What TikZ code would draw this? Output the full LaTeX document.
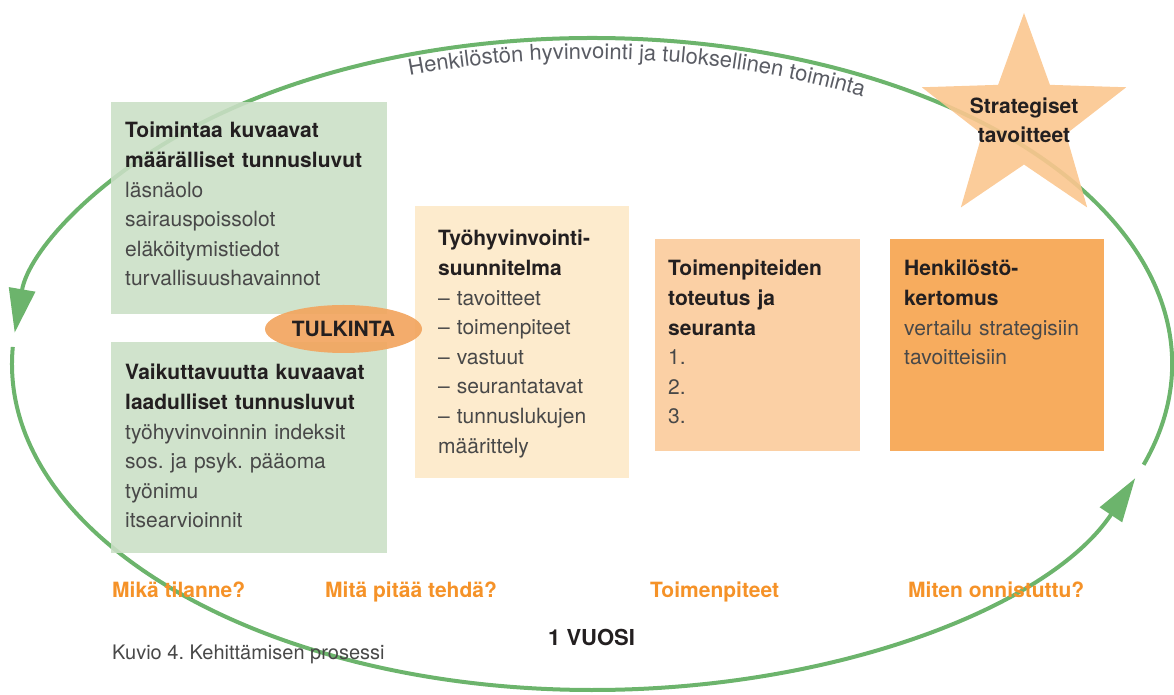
\documentclass[tikz,border=0pt]{standalone}
\usepackage{fontspec}
\setmainfont{TeX Gyre Heros}
\usetikzlibrary{arrows.meta,shapes.geometric,decorations.text}
\frenchspacing
\definecolor{loopgreen}{RGB}{108,180,108}
\definecolor{measgreen}{RGB}{202,223,197}
\definecolor{planyellow}{RGB}{253,232,198}
\definecolor{actpeach}{RGB}{251,202,152}
\definecolor{reportorange}{RGB}{246,160,72}
\definecolor{starorange}{RGB}{251,198,143}
\definecolor{tulkorange}{RGB}{242,165,95}
\definecolor{askorange}{RGB}{245,146,40}
\definecolor{titleink}{RGB}{35,31,32}
\definecolor{bodyink}{RGB}{72,72,72}
\definecolor{arcgrey}{RGB}{90,92,100}
\newcommand{\txtsize}{\fontsize{21}{29.6}\selectfont}
\newcommand{\paneltitle}[1]{\textbf{\color{titleink}#1}}
\tikzset{
  panel/.style={rectangle, anchor=north west, inner sep=0pt, draw=none, fill opacity=0.88},
  greenpanel/.style={panel, fill=measgreen},
  planpanel/.style={panel, fill=planyellow},
  actpanel/.style={panel, fill=actpeach},
  reportpanel/.style={panel, fill=reportorange},
  paneltext/.style={anchor=base west, inner sep=0pt, align=left, font=\txtsize, text=bodyink},
  question/.style={anchor=base west, inner sep=0pt, font=\txtsize\bfseries, text=askorange},
  loop/.style={draw=loopgreen, line width=4pt, -{Triangle[length=44pt, width=26pt]}},
  goalstar/.style={star, star points=5, star point ratio=2.44, minimum size=215pt, inner sep=0pt, draw=none, fill=starorange, fill opacity=0.9},
  tulkinta/.style={ellipse, minimum width=157pt, minimum height=48pt, inner sep=0pt, fill=tulkorange, fill opacity=0.92, text opacity=1, font=\txtsize\bfseries, text=titleink}
}

\begin{document}
\begin{tikzpicture}[x=1pt, y=1pt]
  \useasboundingbox (0,0) rectangle (1174,695);
  \coordinate (centre) at (592,331);

  % the yearly loop
  \draw[loop] ([shift={(-18:580 and 326)}]centre) arc[start angle=-18, end angle=174.5, x radius=580, y radius=326];
  \draw[loop] ([shift={(177:580 and 326)}]centre) arc[start angle=177, end angle=339.5, x radius=580, y radius=326];
  \path[decorate, decoration={text along path, text align=left,
      text={|\fontsize{22}{22}\selectfont\color{arcgrey}|Henkilöstön hyvinvointi ja tuloksellinen toiminta}}]
    ([shift={(109:560 and 305)}]centre) arc[start angle=109, end angle=10, x radius=560, y radius=305];

  % panels
  \node[greenpanel, minimum width=276pt, minimum height=212pt] (measures) at (111,593) {};
  \node[paneltext, text width=255pt] (measurestext) at (125,557)
    {\paneltitle{Toimintaa kuvaavat}\\\paneltitle{määrälliset tunnusluvut}\\läsnäolo\\sairauspoissolot\\eläköitymistiedot\\turvallisuushavainnot};
  \node[greenpanel, minimum width=276pt, minimum height=211pt] (impact) at (111,353) {};
  \node[paneltext, text width=255pt] (impacttext) at (125,315)
    {\paneltitle{Vaikuttavuutta kuvaavat}\\\paneltitle{laadulliset tunnusluvut}\\työhyvinvoinnin indeksit\\sos. ja psyk. pääoma\\työnimu\\itsearvioinnit};
  \node[planpanel, minimum width=214pt, minimum height=272pt] (plan) at (415,489) {};
  \node[paneltext, text width=185pt] (plantext) at (438,449)
    {\paneltitle{Työhyvinvointi-}\\\paneltitle{suunnitelma}\\-- tavoitteet\\-- toimenpiteet\\-- vastuut\\-- seurantatavat\\-- tunnuslukujen\\määrittely};
  \node[actpanel, minimum width=205pt, minimum height=212pt] (act) at (655,456) {};
  \node[paneltext, text width=185pt] (acttext) at (668,419)
    {\paneltitle{Toimenpiteiden}\\\paneltitle{toteutus ja}\\\paneltitle{seuranta}\\1.\\2.\\3.};
  \node[reportpanel, minimum width=214pt, minimum height=212pt] (report) at (890,456) {};
  \node[paneltext, text width=195pt] (reporttext) at (904,419)
    {\paneltitle{Henkilöstö-}\\\paneltitle{kertomus}\\vertailu strategisiin\\tavoitteisiin};

  \node[tulkinta] (interp) at (343.5,366) {TULKINTA};

  \node[goalstar] (goal) at (1024,574.5) {};
  \node[align=center, inner sep=0pt, font=\fontsize{21}{28.5}\selectfont\bfseries, text=titleink] (goaltext) at (goal.center) {Strategiset\\tavoitteet};

  % questions below
  \node[question] (qnow) at (112,97) {Mikä tilanne?};
  \node[question] (qdo) at (325,97) {Mitä pitää tehdä?};
  \node[question] (qact) at (650,97) {Toimenpiteet};
  \node[question] (qhow) at (908,97) {Miten onnistuttu?};

  \node[anchor=base west, inner sep=0pt, font=\fontsize{22}{22}\selectfont\bfseries, text=titleink] (year) at (548,49) {1 VUOSI};
  \node[anchor=base west, inner sep=0pt, font=\fontsize{20}{20}\selectfont, text=bodyink] (caption) at (112,35) {Kuvio 4. Kehittämisen prosessi};
\end{tikzpicture}
\end{document}
